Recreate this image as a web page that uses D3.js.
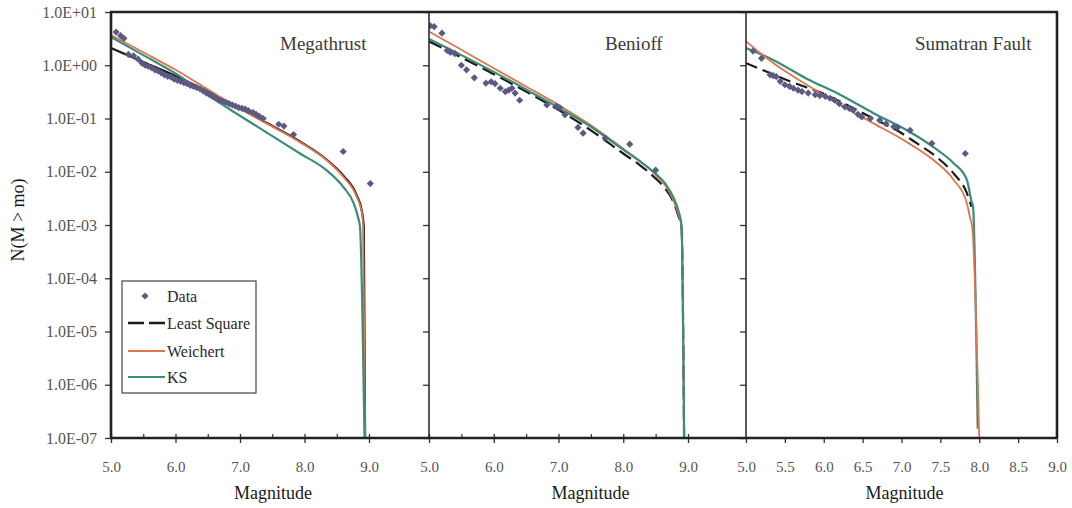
<!DOCTYPE html>
<html>
<head>
<meta charset="utf-8">
<script src="https://cdn.jsdelivr.net/npm/d3@7"></script>
<style>
  html, body { margin: 0; padding: 0; background: #fff; }
  svg { display: block; }
</style>
</head>
<body>
<svg id="chart" width="1072" height="508"></svg>
<script>
// ---- Magnitude-frequency data: N(M > mo) per source zone ----
const panelNames = ["Megathrust", "Benioff", "Sumatran Fault"];

const yTickValues = [1e1, 1e0, 1e-1, 1e-2, 1e-3, 1e-4, 1e-5, 1e-6, 1e-7];
const yTickLabels = ["1.0E+01", "1.0E+00", "1.0E-01", "1.0E-02", "1.0E-03",
                     "1.0E-04", "1.0E-05", "1.0E-06", "1.0E-07"];

const xMajorWide = [5, 6, 7, 8, 9];
const xMinorWide = [5.5, 6.5, 7.5, 8.5];
const xTicksFine = [5, 5.5, 6, 6.5, 7, 7.5, 8, 8.5, 9];

const seriesNames = ["Data", "Least Square", "Weichert", "KS"];

// Observed cumulative rates [magnitude, N]
const dataMegathrust = [
  [5.08,4.2],[5.15,3.6],[5.2,3.2],[5.27,1.6],[5.35,1.5],[5.42,1.3],[5.48,1.1],[5.53,1.0],
  [5.58,0.95],[5.63,0.9],[5.68,0.82],[5.73,0.78],[5.78,0.72],[5.83,0.66],[5.88,0.62],
  [5.93,0.6],[5.98,0.55],[6.03,0.52],[6.08,0.5],[6.13,0.47],[6.18,0.45],[6.23,0.42],
  [6.28,0.4],[6.33,0.38],[6.38,0.36],[6.43,0.33],[6.48,0.3],[6.53,0.28],[6.58,0.26],
  [6.63,0.24],[6.68,0.22],[6.73,0.21],[6.78,0.2],[6.83,0.19],[6.88,0.18],[6.93,0.17],
  [6.98,0.16],[7.03,0.155],[7.08,0.15],[7.13,0.14],[7.2,0.13],[7.25,0.12],[7.3,0.11],
  [7.36,0.1],[7.6,0.078],[7.68,0.072],[7.83,0.05],[8.6,0.024],[9.02,0.006]
];
const dataBenioff = [
  [5.02,5.5],[5.08,5.3],[5.2,4.0],[5.28,1.9],[5.33,1.75],[5.4,1.65],[5.5,1.0],[5.58,0.82],
  [5.7,0.58],[5.88,0.46],[5.96,0.49],[6.02,0.45],[6.1,0.37],[6.18,0.32],[6.23,0.34],
  [6.28,0.37],[6.33,0.3],[6.4,0.22],[6.82,0.18],[6.97,0.17],[7.02,0.16],[7.1,0.117],
  [7.3,0.068],[7.38,0.053],[7.72,0.043],[8.1,0.033],[8.5,0.0107]
];
const dataSumatran = [
  [5.09,1.85],[5.2,1.35],[5.31,0.66],[5.35,0.64],[5.39,0.61],[5.44,0.5],[5.5,0.43],
  [5.56,0.4],[5.61,0.37],[5.67,0.34],[5.72,0.32],[5.8,0.3],[5.89,0.28],[5.95,0.27],
  [6.02,0.26],[6.08,0.24],[6.14,0.22],[6.2,0.19],[6.27,0.166],[6.33,0.155],[6.38,0.144],
  [6.44,0.12],[6.49,0.107],[6.6,0.1],[6.72,0.093],[6.8,0.08],[6.9,0.07],[6.95,0.068],
  [7.11,0.06],[7.39,0.034],[7.82,0.022]
];

// Fitted truncated Gutenberg-Richter curves [magnitude, N]
const leastSquareMegathrust = [
  [5.0,2.1],[5.5,1.15],[6.0,0.63],[6.4,0.37],[6.9,0.18],[7.41,0.083],[7.93,0.037],
  [8.34,0.017],[8.6,0.0085],[8.81,0.0036],[8.89,0.0018],[8.92,0.0009],[8.94,1e-7]
];
const weichertMegathrust = [
  [5.0,3.7],[5.5,1.75],[6.0,0.82],[6.4,0.42],[6.9,0.18],[7.41,0.081],[7.93,0.036],
  [8.34,0.0166],[8.6,0.0081],[8.81,0.0034],[8.89,0.0017],[8.91,0.0009],[8.94,1e-7]
];
const ksMegathrust = [
  [5.0,3.4],[5.5,1.55],[6.0,0.7],[6.4,0.33],[6.9,0.134],[7.41,0.055],[7.93,0.022],
  [8.34,0.0107],[8.6,0.0052],[8.76,0.0026],[8.83,0.0014],[8.86,0.00093],[8.93,1e-7]
];

const leastSquareBenioff = [
  [5.0,2.8],[5.5,1.4],[6.0,0.68],[6.5,0.32],[7.0,0.145],[7.5,0.06],[8.0,0.022],
  [8.25,0.0135],[8.5,0.0075],[8.65,0.0048],[8.77,0.0028],[8.85,0.0015],[8.9,0.0009],
  [8.94,1e-7]
];
const weichertBenioff = [
  [5.0,4.3],[5.5,1.95],[6.0,0.88],[6.5,0.4],[7.0,0.18],[7.5,0.075],[8.0,0.027],
  [8.25,0.016],[8.5,0.0088],[8.65,0.0055],[8.77,0.003],[8.85,0.0016],[8.9,0.0009],
  [8.94,1e-7]
];
const ksBenioff = [
  [5.0,3.1],[5.5,1.55],[6.0,0.75],[6.5,0.35],[7.0,0.16],[7.5,0.07],[8.0,0.026],
  [8.25,0.016],[8.5,0.0092],[8.65,0.006],[8.77,0.0034],[8.85,0.0019],[8.9,0.001],
  [8.94,1e-7]
];

const leastSquareSumatran = [
  [5.0,1.1],[5.3,0.72],[5.63,0.46],[6.0,0.29],[6.3,0.18],[6.68,0.093],[6.94,0.06],
  [7.2,0.034],[7.45,0.019],[7.67,0.0093],[7.84,0.004],[7.9,0.0022]
];
const weichertSumatran = [
  [5.0,2.8],[5.35,1.1],[5.78,0.43],[6.21,0.18],[6.64,0.081],[7.07,0.036],[7.41,0.0166],
  [7.67,0.0071],[7.84,0.0026],[7.88,0.0014],[7.91,0.0009],[8.0,1e-7]
];
const ksSumatran = [
  [5.0,2.1],[5.35,1.26],[5.78,0.56],[6.21,0.28],[6.64,0.126],[7.07,0.06],[7.41,0.029],
  [7.67,0.0145],[7.84,0.0071],[7.9,0.0028],[7.92,0.0022],[7.98,1.5e-7]
];

// ---- Styling ----
const colors = { data: "#5d5a82", ls: "#1b1b1b", weichert: "#dc7650", ks: "#3b8c79" };
const tickGray = "#555";
const serif = "'Liberation Serif', 'Times New Roman', Times, 'Nimbus Roman', 'DejaVu Serif', 'Noto Serif', FreeSerif, serif";

const svg = d3.select("#chart").style("font-family", serif);
const plotTop = 12, plotBottom = 438;
const y = d3.scaleLog().domain([1e-7, 10]).range([plotBottom, plotTop]);

// Diamond marker: a square turned 45 degrees
const marker = d3.symbol(d3.symbolSquare, 26);

// Panel frames: pixel range of the 5..9 magnitude span plus the panel's right edge
const panels = [
  { name: panelNames[0], left: 111, at9: 369, right: 429, titleX: 280,
    pts: dataMegathrust, ls: leastSquareMegathrust, w: weichertMegathrust, ks: ksMegathrust,
    lsDash: null, fine: false },
  { name: panelNames[1], left: 429, at9: 688, right: 746, titleX: 605,
    pts: dataBenioff, ls: leastSquareBenioff, w: weichertBenioff, ks: ksBenioff,
    lsDash: "14,6", fine: false },
  { name: panelNames[2], left: 746, at9: 1057, right: 1057, titleX: 915,
    pts: dataSumatran, ls: leastSquareSumatran, w: weichertSumatran, ks: ksSumatran,
    lsDash: "12,6", fine: true }
];

panels.forEach((p, i) => {
  const x = d3.scaleLinear().domain([5, 9]).range([p.left, p.at9]);
  const g = svg.append("g");

  const clipId = "clip" + i;
  svg.append("clipPath").attr("id", clipId).append("rect")
    .attr("x", p.left).attr("y", plotTop).attr("width", p.right - p.left + 2)
    .attr("height", plotBottom - plotTop + 4);

  // Y axis on the panel's left edge
  const yAxis = d3.axisLeft(y).tickValues(yTickValues).tickSize(6).tickPadding(8)
    .tickFormat((d, k) => i === 0 ? yTickLabels[k] : "");
  const ya = g.append("g").attr("transform", `translate(${p.left},0)`).call(yAxis)
    .attr("font-family", serif);
  ya.select(".domain").remove();
  ya.selectAll(".tick line").attr("stroke", "#333").attr("stroke-width", 1.3);
  ya.selectAll(".tick text").attr("fill", tickGray).attr("font-size", 16);

  // X axis
  const xa = d3.axisBottom(x).tickValues(p.fine ? xTicksFine : xMajorWide)
    .tickSize(5).tickPadding(18).tickFormat(d3.format(".1f"));
  const gx = g.append("g").attr("transform", `translate(0,${plotBottom})`).call(xa)
    .attr("font-family", serif);
  gx.select(".domain").remove();
  gx.selectAll(".tick line").attr("stroke", "#333").attr("stroke-width", 1.3);
  gx.selectAll(".tick text").attr("fill", tickGray).attr("font-size", 15);
  if (!p.fine) {
    gx.selectAll(".tick line").attr("y1", -4);
    const xm = d3.axisTop(x).tickValues(xMinorWide).tickSize(4).tickFormat("");
    const gm = g.append("g").attr("transform", `translate(0,${plotBottom})`).call(xm);
    gm.select(".domain").remove();
    gm.selectAll(".tick line").attr("stroke", "#333").attr("stroke-width", 1.2);
  }

  // Axis title under each panel
  g.append("text").attr("x", (p.left + p.right) / 2 + 3).attr("y", 499)
    .attr("text-anchor", "middle").attr("fill", "#1a1a1a")
    .attr("font-family", serif).attr("font-size", 18)
    .text("Magnitude");

  // Panel title
  g.append("text").attr("x", p.titleX).attr("y", 50).attr("fill", "#3a3a3a")
    .attr("font-family", serif).attr("font-size", 19).text(p.name);

  const plot = g.append("g").attr("clip-path", `url(#${clipId})`);

  const line = d3.line().x(d => x(d[0])).y(d => y(d[1])).curve(d3.curveMonotoneX);

  plot.append("path").datum(p.ls).attr("d", line).attr("fill", "none")
    .attr("stroke", colors.ls).attr("stroke-width", 2.2)
    .attr("stroke-dasharray", p.lsDash);
  if (i === 2) {
    plot.append("path").datum(p.ks).attr("d", line).attr("fill", "none")
      .attr("stroke", colors.ks).attr("stroke-width", 2.2);
    plot.append("path").datum(p.w).attr("d", line).attr("fill", "none")
      .attr("stroke", colors.weichert).attr("stroke-width", 1.8);
  } else {
    plot.append("path").datum(p.w).attr("d", line).attr("fill", "none")
      .attr("stroke", colors.weichert).attr("stroke-width", 1.8);
    plot.append("path").datum(p.ks).attr("d", line).attr("fill", "none")
      .attr("stroke", colors.ks).attr("stroke-width", 2.2);
  }

  // Observed points, drawn above the fitted curves
  plot.selectAll("path.pt").data(p.pts).join("path").attr("class", "pt")
    .attr("transform", d => `translate(${x(d[0])},${y(d[1])}) rotate(45)`)
    .attr("d", marker)
    .attr("fill", colors.data);

  // Panel divider / left edge
  g.append("line").attr("x1", p.left).attr("x2", p.left).attr("y1", plotTop).attr("y2", plotBottom)
    .attr("stroke", "#222").attr("stroke-width", i === 0 ? 2.6 : 1.5);
});

// Outer frame: top, bottom and right edges
svg.append("line").attr("x1", 110).attr("x2", 1058).attr("y1", plotTop).attr("y2", plotTop)
  .attr("stroke", "#222").attr("stroke-width", 2.6);
svg.append("line").attr("x1", 110).attr("x2", 1058).attr("y1", plotBottom).attr("y2", plotBottom)
  .attr("stroke", "#222").attr("stroke-width", 2.6);
svg.append("line").attr("x1", 1057).attr("x2", 1057).attr("y1", plotTop).attr("y2", plotBottom)
  .attr("stroke", "#222").attr("stroke-width", 2.6);

// Y axis title
svg.append("text").attr("transform", "translate(24,220) rotate(-90)")
  .attr("text-anchor", "middle").attr("fill", "#1a1a1a")
  .attr("font-family", serif).attr("font-size", 18)
  .text("N(M > mo)");

// Legend
const lg = svg.append("g");
lg.append("rect").attr("x", 122).attr("y", 281).attr("width", 134).attr("height", 112)
  .attr("fill", "#fff").attr("stroke", "#444").attr("stroke-width", 1.2);
const legendRows = [
  { label: seriesNames[0], y: 296, kind: "pt" },
  { label: seriesNames[1], y: 323, kind: "line", color: colors.ls, dash: "16,5", w: 2.4 },
  { label: seriesNames[2], y: 351, kind: "line", color: colors.weichert, w: 1.8 },
  { label: seriesNames[3], y: 377, kind: "line", color: colors.ks, w: 2.2 }
];
legendRows.forEach(r => {
  if (r.kind === "pt") {
    lg.append("path").attr("transform", `translate(145,${r.y}) rotate(45)`)
      .attr("d", marker).attr("fill", colors.data);
  } else {
    lg.append("line").attr("x1", 128).attr("x2", 165).attr("y1", r.y).attr("y2", r.y)
      .attr("stroke", r.color).attr("stroke-width", r.w).attr("stroke-dasharray", r.dash || null);
  }
  lg.append("text").attr("x", 167).attr("y", r.y + 6).attr("fill", "#2a2a2a")
    .attr("font-family", serif).attr("font-size", 16).text(r.label);
});
</script>
</body>
</html>
